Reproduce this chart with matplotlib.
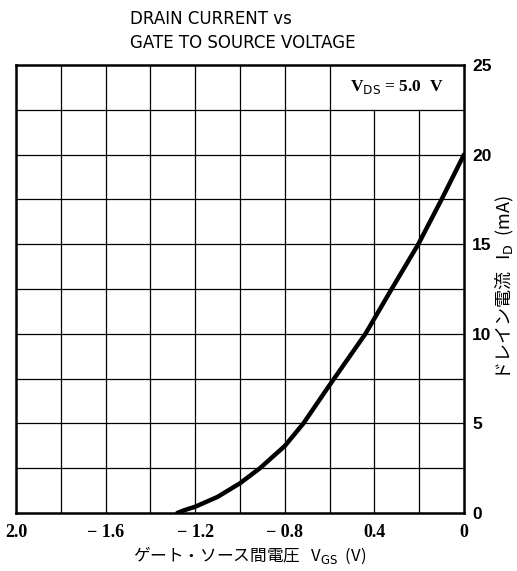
import matplotlib
matplotlib.use("Agg")
import matplotlib.pyplot as plt
import numpy as np

# Data
vgs = [-1.28, -1.25, -1.2, -1.1, -1.0, -0.911, -0.8, -0.717, -0.6, -0.44, -0.323, -0.204, -0.1, 0.0]
i_d = [0.0, 0.15, 0.35, 0.9, 1.66, 2.5, 3.74, 5.0, 7.14, 10.0, 12.5, 15.0, 17.5, 20.0]

x_ticks = [-2.0, -1.6, -1.2, -0.8, -0.4, 0.0]
x_ticklabels = ["2.0", "\u2212 1.6", "\u2212 1.2", "\u2212 0.8", "0.4", "0"]
y_ticks = [0, 5, 10, 15, 20, 25]
y_ticklabels = ["0", "5", "10", "15", "20", "25"]
x_grid = [-2.0 + 0.2 * k for k in range(11)]
y_grid = [2.5 * k for k in range(11)]

title = "DRAIN CURRENT vs\nGATE TO SOURCE VOLTAGE"
xlabel = "ゲート・ソース間電圧   V$_{\\mathrm{GS}}$  (V)"
ylabel = "ドレイン電流   I$_{\\mathrm{D}}$  (mA)"
cond = "V$_{\\mathrm{DS}}$ = 5.0  V"

plt.rcParams['font.family'] = ['Noto Sans CJK JP', 'DejaVu Sans']

fig = plt.figure(figsize=(5.17, 5.71), dpi=100)
ax = fig.add_axes([16/517, 1-513/571, 448/517, 448/571])
ax.set_xlim(-2.0, 0.0)
ax.set_ylim(0, 25)

# grid (top-right cell kept open for the condition label)
for xv in x_grid[1:-1]:
    top = 22.5 if xv > -0.5 else 25
    ax.plot([xv, xv], [0, top], color='black', lw=0.9, zorder=1)
for yv in y_grid[1:-1]:
    ax.plot([-2.0, 0.0], [yv, yv], color='black', lw=0.9, zorder=1)

ax.plot(vgs, i_d, color='black', lw=3.2, solid_capstyle='round',
        solid_joinstyle='round', zorder=3)

for s in ax.spines.values():
    s.set_linewidth(1.8)

ax.set_xticks(x_ticks)
ax.set_xticklabels(x_ticklabels, family='Liberation Serif', fontweight='bold', fontsize=13)
ax.yaxis.tick_right()
ax.set_yticks(y_ticks)
ax.set_yticklabels(y_ticklabels, family=['Liberation Sans Narrow', 'Liberation Sans'],
                   fontweight='bold', fontsize=12.5)
ax.tick_params(axis='both', length=0)
ax.tick_params(axis='x', pad=8)
ax.tick_params(axis='y', pad=6)

ax.text(-0.3, 23.75, cond, ha='center', va='center', fontsize=12.5,
        family='Liberation Serif', fontweight='bold')

fig.text(130/517, 1-10/571, title, ha='left', va='top', fontsize=12,
         family='DejaVu Sans', linespacing=1.45)

fig.text(250/517, 1-555/571, xlabel, ha='center', va='center', fontsize=12)
fig.text(505/517, 1-288/571, ylabel, ha='center', va='center', fontsize=13, rotation=90)

fig.savefig("out.png", dpi=100)
